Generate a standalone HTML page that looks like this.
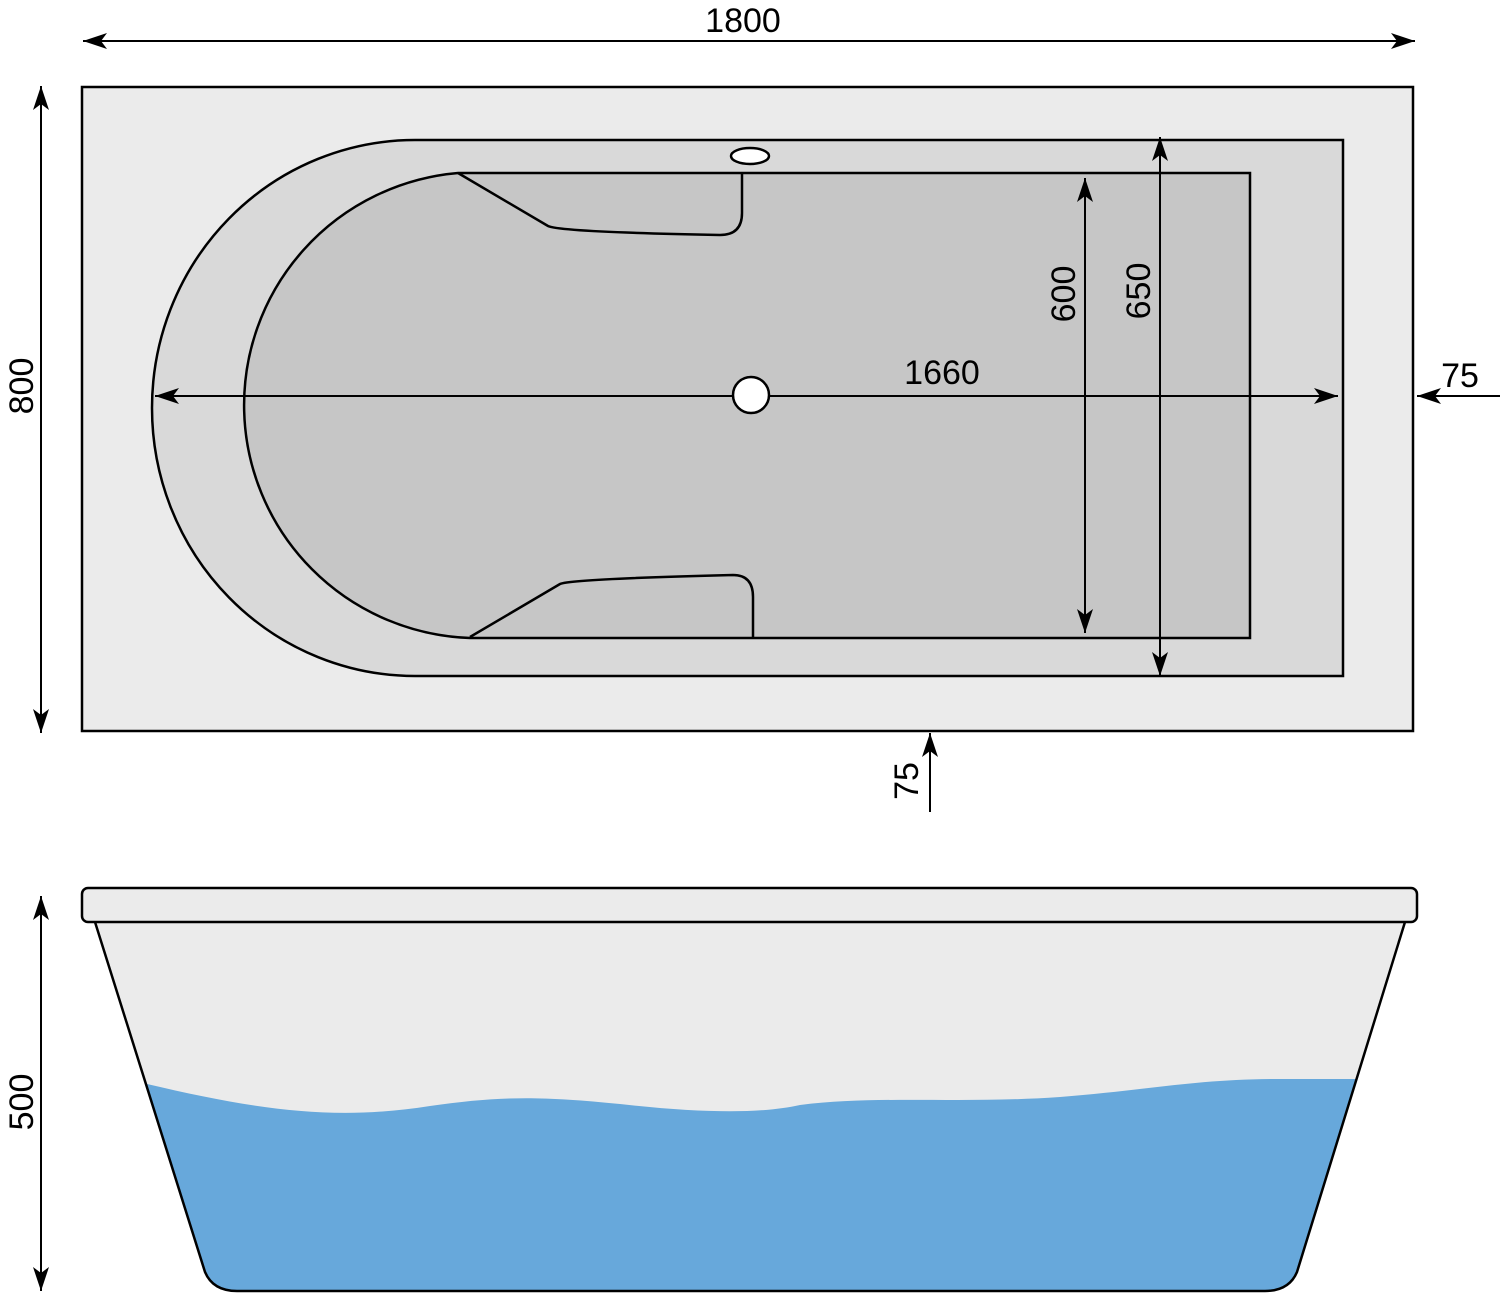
<!DOCTYPE html>
<html><head><meta charset="utf-8"><style>
html,body{margin:0;padding:0;background:#fff;}
svg{display:block}
text{font-family:"Liberation Sans",sans-serif;font-size:34px;fill:#000}
</style></head><body>
<svg width="1500" height="1293" viewBox="0 0 1500 1293" xmlns="http://www.w3.org/2000/svg">
<defs>
<marker id="a" markerUnits="userSpaceOnUse" markerWidth="30" markerHeight="20" refX="24" refY="8" orient="auto">
<path d="M24,8 L0,0 L6,8 L0,16 Z" fill="#000"/>
</marker>
<clipPath id="body"><path d="M95,922 L1405,922 L1297,1272 Q1289,1291 1265,1291 L237,1291 Q213,1291 205,1272 Z"/></clipPath>
</defs>

<rect x="82" y="87" width="1331" height="644" fill="#ebebeb" stroke="#000" stroke-width="2.5"/>
<path d="M415,140 L1343,140 L1343,676 L415,676 A263 268 0 0 1 415,140 Z" fill="#d9d9d9" stroke="#000" stroke-width="2.5"/>
<path d="M458,173 L1250,173 L1250,638 L470,638 A234 233 0 0 1 458,173 Z" fill="#c6c6c6" stroke="#000" stroke-width="2.5"/>
<path d="M458,173 L548,226 Q560,232 720,235 Q742,235 742,213 L742,173" fill="none" stroke="#000" stroke-width="2.5"/>
<path d="M470,637 L560,584 Q570,579 733,575 Q753,575 753,597 L753,637" fill="none" stroke="#000" stroke-width="2.5"/>
<ellipse cx="750" cy="156" rx="19" ry="8" fill="#fff" stroke="#000" stroke-width="2.5"/>

<line x1="1415" y1="41" x2="83" y2="41" stroke="#000" stroke-width="2" marker-end="url(#a)"/>
<line x1="83" y1="41" x2="1415" y2="41" stroke="#000" stroke-width="2" marker-end="url(#a)"/>
<text x="743" y="32" text-anchor="middle">1800</text>

<line x1="41" y1="733" x2="41" y2="86" stroke="#000" stroke-width="2" marker-end="url(#a)"/>
<line x1="41" y1="86" x2="41" y2="733" stroke="#000" stroke-width="2" marker-end="url(#a)"/>
<text transform="translate(33,386) rotate(-90)" text-anchor="middle">800</text>

<line x1="1338" y1="396" x2="155" y2="396" stroke="#000" stroke-width="2" marker-end="url(#a)"/>
<line x1="155" y1="396" x2="1338" y2="396" stroke="#000" stroke-width="2" marker-end="url(#a)"/>
<text x="942" y="384" text-anchor="middle">1660</text>
<circle cx="751" cy="395" r="18" fill="#fff" stroke="#000" stroke-width="2.5"/>

<line x1="1085" y1="633" x2="1085" y2="178" stroke="#000" stroke-width="2" marker-end="url(#a)"/>
<line x1="1085" y1="178" x2="1085" y2="633" stroke="#000" stroke-width="2" marker-end="url(#a)"/>
<text transform="translate(1075,294) rotate(-90)" text-anchor="middle">600</text>

<line x1="1160" y1="676" x2="1160" y2="137" stroke="#000" stroke-width="2" marker-end="url(#a)"/>
<line x1="1160" y1="137" x2="1160" y2="676" stroke="#000" stroke-width="2" marker-end="url(#a)"/>
<text transform="translate(1150,291) rotate(-90)" text-anchor="middle">650</text>

<line x1="1500" y1="396" x2="1417" y2="396" stroke="#000" stroke-width="2" marker-end="url(#a)"/>
<text x="1460" y="387" text-anchor="middle">75</text>

<line x1="930" y1="812" x2="930" y2="733" stroke="#000" stroke-width="2" marker-end="url(#a)"/>
<text transform="translate(918,781) rotate(-90)" text-anchor="middle">75</text>

<path d="M95,922 L1405,922 L1297,1272 Q1289,1291 1265,1291 L237,1291 Q213,1291 205,1272 Z" fill="#ebebeb"/>
<path clip-path="url(#body)" d="M100,1072 L147,1084 C250,1108 330,1122 430,1106 C500,1096 540,1096 620,1104 C700,1113 760,1114 800,1105 C880,1095 960,1104 1060,1097 C1150,1090 1200,1078 1290,1079 L1420,1079 L1420,1300 L100,1300 Z" fill="#67a8db"/>
<path d="M95,922 L205,1272 Q213,1291 237,1291 L1265,1291 Q1289,1291 1297,1272 L1405,922" fill="none" stroke="#000" stroke-width="2.5"/>
<rect x="82" y="888" width="1335" height="34" rx="6" fill="#ebebeb" stroke="#000" stroke-width="2.5"/>

<line x1="41" y1="1291" x2="41" y2="896" stroke="#000" stroke-width="2" marker-end="url(#a)"/>
<line x1="41" y1="896" x2="41" y2="1291" stroke="#000" stroke-width="2" marker-end="url(#a)"/>
<text transform="translate(33,1102) rotate(-90)" text-anchor="middle">500</text>
</svg>
</body></html>
